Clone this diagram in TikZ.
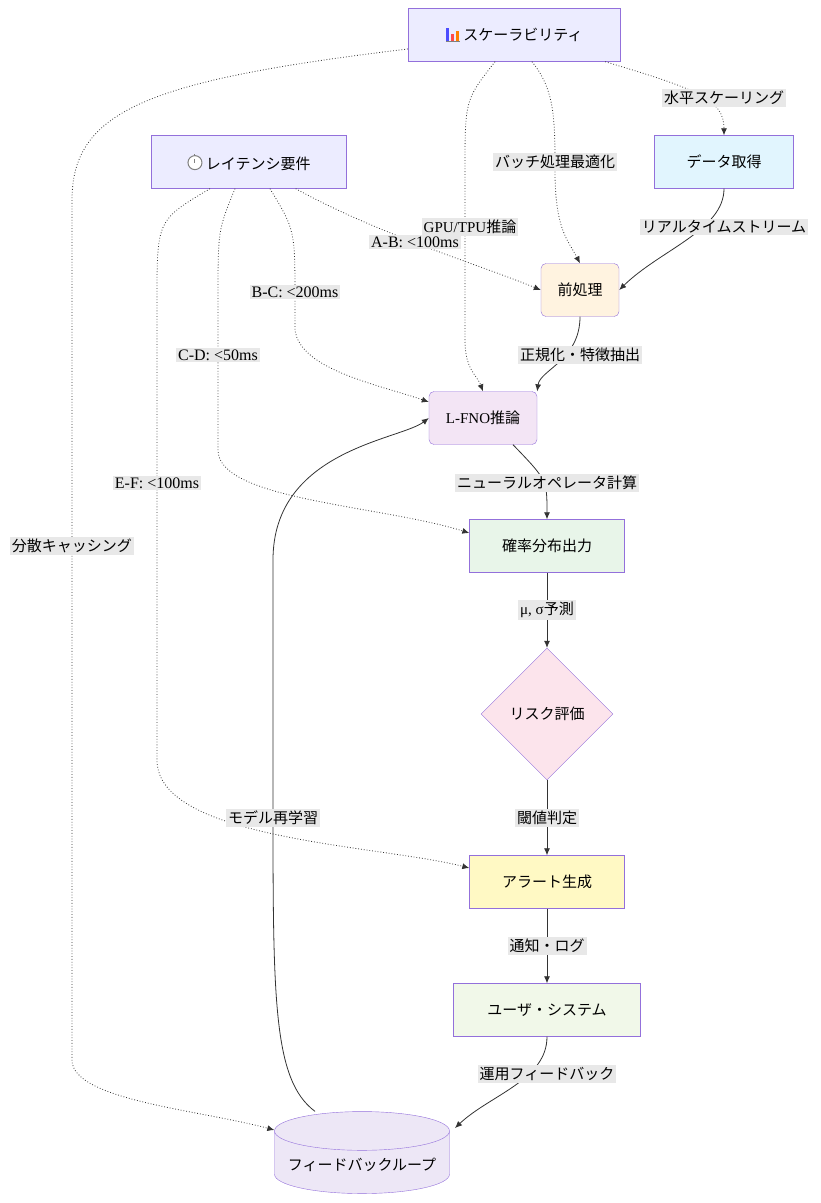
\documentclass[tikz,border=0pt]{standalone}
\usepackage{fontspec}
\setmainfont{Liberation Serif}
\newfontfamily\jp{Noto Sans CJK JP}
\usetikzlibrary{shapes.geometric,arrows.meta}
\definecolor{nodeline}{HTML}{9370DB}
\definecolor{lblfill}{HTML}{E8E8E8}
\definecolor{riskfill}{HTML}{FCE4EC}
\definecolor{userfill}{HTML}{F1F8E9}
\definecolor{datafill}{HTML}{E1F5FE}
\definecolor{prefill}{HTML}{FFF3E0}
\definecolor{fnofill}{HTML}{F3E5F5}
\definecolor{probfill}{HTML}{E8F5E9}
\definecolor{alertfill}{HTML}{FFF9C4}
\definecolor{fbfill}{HTML}{EDE7F6}
\definecolor{reqfill}{HTML}{ECECFF}
\newcommand{\barsicon}{\tikz[baseline=0pt]{\fill[blue!70] (0,0) rectangle (3.5pt,13pt);\fill[red!70] (5pt,0) rectangle (8.5pt,7pt);\fill[orange] (10pt,0) rectangle (13.5pt,10pt);\draw[gray,line width=.6pt] (0,0)--(14pt,0);}}
\newcommand{\watchicon}{\tikz[baseline=0pt]{\draw[gray,fill=white,line width=1pt] (7pt,7pt) circle (7pt);\draw[gray,line width=1pt] (7pt,7pt)--(7pt,11pt) (7pt,14pt)--(7pt,16pt);}}
\tikzset{
  box/.style={draw=nodeline, fill=#1, minimum height=53pt, align=center, font=\jp\fontsize{15}{17}\selectfont},
  lbl/.style={fill=lblfill, inner sep=2pt, font=\jp\fontsize{15}{17}\selectfont},
  lbls/.style={fill=lblfill, inner sep=2pt, font=\fontsize{16}{18}\selectfont},
  flow/.style={draw=black!80, line width=.8pt, -{Latex[length=7pt,width=6pt]}},
  dflow/.style={flow, dotted},
}
\begin{document}
\begin{tikzpicture}[x=1pt,y=-1pt]
\useasboundingbox (0,0) rectangle (821,1203);
% nodes
\node[box=reqfill, minimum width=212pt] (scal) at (514,35) {\barsicon\ スケーラビリティ};
\node[box=reqfill, minimum width=195pt] (lat) at (249,162) {\watchicon\ レイテンシ要件};
\node[box=datafill, minimum width=139pt] (data) at (724,162) {データ取得};
\node[box=prefill, rounded corners=5pt, minimum width=78pt] (pre) at (580,290) {前処理};
\node[box=fnofill, rounded corners=5pt, minimum width=108pt] (fno) at (483,418) {\fontspec{Liberation Serif}L-FNO\jp 推論};
\node[box=probfill, minimum width=155pt] (prob) at (547,546) {確率分布出力};
\node[box=riskfill, diamond, aspect=1, minimum width=132pt, minimum height=132pt, inner sep=0pt] (risk) at (547,714) {リスク評価};
\node[box=alertfill, minimum width=155pt] (alert) at (547,882) {アラート生成};
\node[box=userfill, minimum width=187pt] (user) at (547,1010) {ユーザ・システム};
\node[box=fbfill, cylinder, shape border rotate=90, aspect=0.25, minimum width=175pt, minimum height=82pt] (fb) at (362,1165) {フィードバックループ};
\coordinate (fbin) at (455,1128);
% solid flow
\draw[flow] (data.south) .. controls (724,230) and (660,250) .. (pre.east);
\draw[flow] (pre.south) .. controls (580,360) and (540,370) .. (fno.north east);
\draw[flow] (fno.south) ++(30,0) .. controls (547,480) .. (prob.north);
\draw[flow] (prob) -- (risk);
\draw[flow] (risk) -- (alert);
\draw[flow] (alert) -- (user);
\draw[flow] (user.south) .. controls (547,1080) and (490,1095) .. (fbin);
\draw[flow] (fb.north) ++(-47,0) .. controls (273,1080) and (273,1000) .. (273,800) -- (273,560) .. controls (273,450) and (400,440) .. (fno.west);
% dotted flow
\draw[dflow] (scal.south east) ++(-15,0) .. controls (700,90) and (724,100) .. (data.north);
\draw[dflow] (scal.south) ++(18,0) .. controls (555,90) and (555,120) .. (555,170) .. controls (555,230) and (568,240) .. (pre.north);
\draw[dflow] (scal.south) ++(-19,0) .. controls (465,100) .. (465,170) -- (465,340) .. controls (465,370) and (477,375) .. (fno.north);
\draw[dflow] (scal.west) ++(0,14) .. controls (150,80) and (72,110) .. (72,200) -- (72,1060) .. controls (72,1100) and (200,1110) .. (fb.west |- 0,1130);
\draw[dflow] (lat.south east) ++(-51,0) .. controls (380,235) and (480,265) .. (pre.west);
\draw[dflow] (lat.south) ++(21,0) .. controls (295,230) .. (295,300) -- (295,330) .. controls (300,370) and (380,385) .. (fno.west |- 0,402);
\draw[dflow] (lat.south) ++(-14,0) .. controls (218,230) .. (218,300) -- (218,450) .. controls (218,500) and (380,505) .. (prob.west |- 0,533);
\draw[dflow] (lat.south) ++(-39,0) .. controls (157,220) .. (157,300) -- (157,760) .. controls (157,840) and (380,845) .. (alert.west |- 0,868);
% labels
\node[lbl] (l1) at (724,227) {リアルタイムストリーム};
\node[lbl] (l2) at (580,355) {正規化・特徴抽出};
\node[lbl] (l3) at (547,483) {ニューラルオペレータ計算};
\node[lbl] (l4) at (547,610) {\fontspec{Liberation Serif}μ, σ\jp 予測};
\node[lbl] (l5) at (547,818) {閾値判定};
\node[lbl] (l6) at (547,946) {通知・ログ};
\node[lbl] (l7) at (547,1074) {運用フィードバック};
\node[lbl] (l8) at (273,818) {モデル再学習};
\node[lbl] (l9) at (724,98) {水平スケーリング};
\node[lbl] (l10) at (555,162) {バッチ処理最適化};
\node[lbl] (l11) at (470,227) {\fontspec{Liberation Serif}GPU/TPU\jp 推論};
\node[lbl] (l12) at (72,546) {分散キャッシング};
\node[lbls] (l13) at (415,242) {A-B: <100ms};
\node[lbls] (l14) at (295,292) {B-C: <200ms};
\node[lbls] (l15) at (218,355) {C-D: <50ms};
\node[lbls] (l16) at (157,483) {E-F: <100ms};
\end{tikzpicture}
\end{document}
